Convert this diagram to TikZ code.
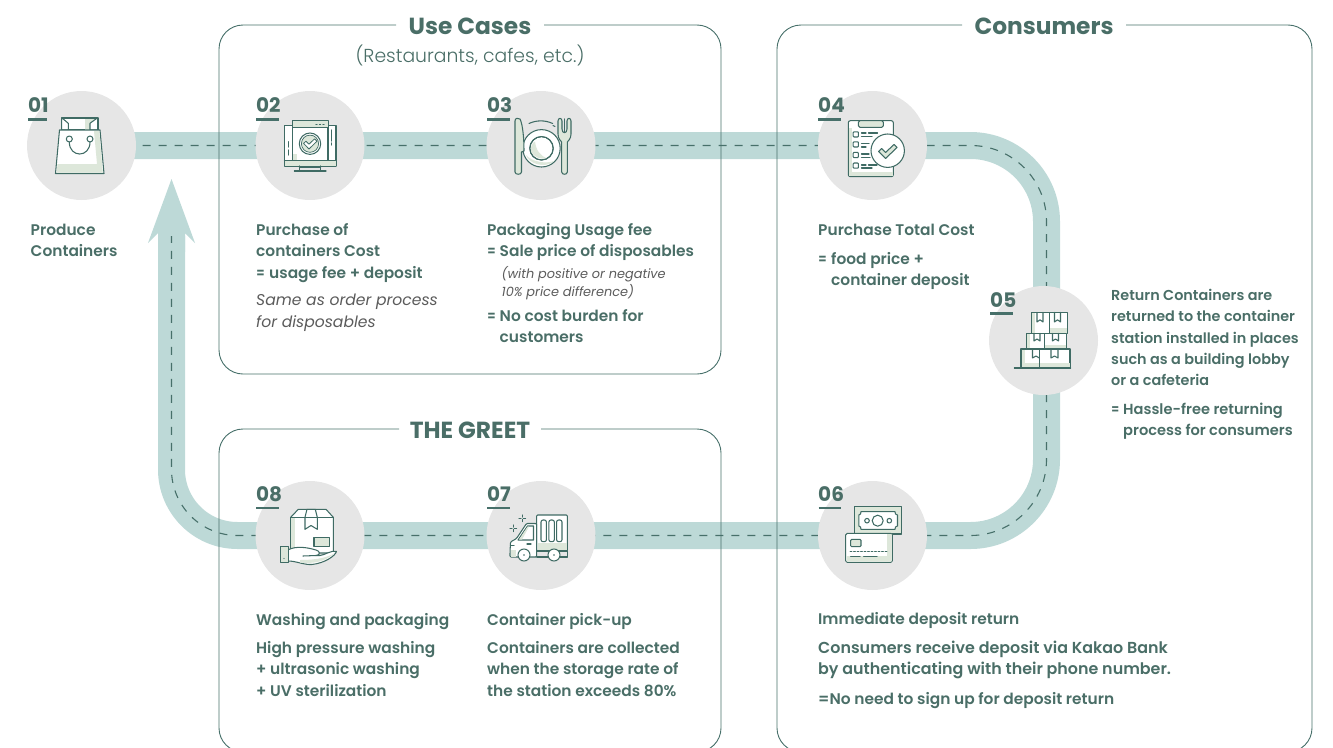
\documentclass[tikz,border=0pt]{standalone}
\usepackage{fontspec}
\setmainfont{Poppins Medium}[BoldFont=Poppins SemiBold,ItalicFont=Poppins Italic]
\newfontfamily\numfont{Poppins Bold}
\newfontfamily\subfont{Poppins Light}
\definecolor{ink}{HTML}{47706A}
\definecolor{icn}{HTML}{3F6B64}
\definecolor{txt}{HTML}{4A6E67}
\definecolor{roadc}{HTML}{BDD9D7}
\definecolor{disc}{HTML}{E6E6E6}
\definecolor{shade}{HTML}{DDE7DA}
\definecolor{note}{HTML}{5B5B5B}
\newcommand{\fl}{\rule{0pt}{14pt}}
\newcommand{\ind}[1]{\hspace*{#1pt}}
\newcommand{\eqs}[1]{\makebox[#1pt][l]{\scalebox{0.78}[1]{=}}}
\tikzset{
  x=1pt,y=-1pt,
  frame/.style={draw=ink,line width=0.9pt,rounded corners=24pt},
  road/.style={draw=roadc,line width=27pt,line join=round},
  lane/.style={draw=ink,line width=1.1pt,dash pattern=on 8pt off 8pt,dash phase=3pt},
  stepdisc/.style={circle,fill=disc,minimum size=109pt,inner sep=0pt},
  title/.style={font=\fontsize{23.3}{26}\numfont,text=txt,inner sep=0pt},
  body/.style={anchor=north west,yshift=-0.3pt,inner sep=0pt,align=left,text=txt,font=\fontsize{15.4}{21.3}\selectfont\bfseries},
  nb/.style={anchor=base west,inner sep=0pt,text=txt,font=\fontsize{20}{22}\numfont},
  nbline/.style={draw=ink,line width=2.4pt},
  ic/.style={draw=icn,line width=1.05pt,line join=round,line cap=round},
  icw/.style={ic,fill=white},
  icl/.style={ic,fill=shade},
  sh/.style={fill=shade},
}
\begin{document}
\begin{tikzpicture}
\useasboundingbox (0,0) rectangle (1333,747);
\clip (0,0) rectangle (1333,747);
% named positions
\coordinate (p1) at (81.5,145.5);
\coordinate (p2) at (310,145.5);
\coordinate (p3) at (541,145.5);
\coordinate (p4) at (872.5,145.5);
\coordinate (p5) at (1043.5,340.5);
\coordinate (p6) at (872.5,535.5);
\coordinate (p7) at (541,535.5);
\coordinate (p8) at (310,535.5);
\coordinate (tr) at (1046.5,145.5);
\coordinate (br) at (1046.5,535.5);
\coordinate (bl) at (171.5,535.5);
\coordinate (shaft) at (171.5,236);
\coordinate (tip) at (171.5,179);
% road
\draw[road] (p1) [rounded corners=76pt] -- (tr) -- (br) [rounded corners=66pt] -- (bl) -- (shaft);
\fill[roadc] (tip) -- (195,243) -- (185,233) -- (185,252) -- (158,252) -- (158,233) -- (148,243) -- cycle;
\draw[lane] (p1) [rounded corners=76pt] -- (tr) -- (br) [rounded corners=66pt] -- (bl) -- (shaft);
% frames
\draw[frame] (544,25) -- (721,25) -- (721,374) -- (219,374) -- (219,25) -- (396,25);
\draw[frame] (1126,25) -- (1312,25) -- (1312,752) -- (777,752) -- (777,25) -- (962,25);
\draw[frame] (541,429) -- (721,429) -- (721,752) -- (219,752) -- (219,429) -- (399,429);
\node[title] (tUse) at (470,26) {Use Cases};
\node[inner sep=0pt,text=txt,font=\fontsize{18.8}{22}\subfont] (tSub) at (470,55) {(Restaurants, cafes, etc.)};
\node[title] (tCons) at (1044,26) {Consumers};
\node[title] (tGreet) at (470,430) {THE GREET};
% discs
\node[stepdisc] (c1) at (p1) {};
\node[stepdisc] (c2) at (p2) {};
\node[stepdisc] (c3) at (p3) {};
\node[stepdisc] (c4) at (p4) {};
\node[stepdisc] (c5) at (p5) {};
\node[stepdisc] (c6) at (p6) {};
\node[stepdisc] (c7) at (p7) {};
\node[stepdisc] (c8) at (p8) {};
% numbers
\node[nb] (n1) at (28,112) {01}; \draw[nbline] (28,119.5) -- (46.5,119.5);
\node[nb] (n2) at (256,112) {02}; \draw[nbline] (256,119.5) -- (279,119.5);
\node[nb] (n3) at (487,112) {03}; \draw[nbline] (487,119.5) -- (510,119.5);
\node[nb] (n4) at (818,112) {04}; \draw[nbline] (818,119.5) -- (841,119.5);
\node[nb] (n5) at (990,307) {05}; \draw[nbline] (990,313.5) -- (1012.5,313.5);
\node[nb] (n6) at (818,501) {06}; \draw[nbline] (818.5,508) -- (841,508);
\node[nb] (n7) at (487,501) {07}; \draw[nbline] (487,508) -- (510,508);
\node[nb] (n8) at (256,501) {08}; \draw[nbline] (256,508) -- (279,508);
% texts
\node[body] (t1) at (30.5,221) {\fl Produce\\Containers};
\node[body] (t2) at (256,221) {\fl Purchase of\\containers Cost\\\eqs{13}usage fee + deposit};
\node[body,text=note,font=\fontsize{15.6}{21.8}\itshape] (t2b) at (256,291) {\fl Same as order process\\for disposables};
\node[body] (t3) at (487,221) {\fl Packaging Usage fee\\\eqs{12.5}Sale price of disposables};
\node[body,text=note,font=\fontsize{12.9}{18}\itshape] (t3b) at (501.5,264) {\fl (with positive or negative\\10\% price difference)};
\node[body] (t3c) at (487,307) {\fl \eqs{12.5}No cost burden for\\\ind{12.5}customers};
\node[body] (t4) at (818,221) {\fl Purchase Total Cost};
\node[body] (t4b) at (818,250) {\fl \eqs{13}food price +\\\ind{13}container deposit};
\node[body,font=\fontsize{14.4}{21.3}\selectfont\bfseries] (t5) at (1111,286) {\fl Return Containers are\\returned to the container\\station installed in places\\such as a building lobby\\or a cafeteria};
\node[body,font=\fontsize{14.6}{21.3}\selectfont\bfseries] (t5b) at (1111,400) {\fl \eqs{12}Hassle-free returning\\\ind{12}process for consumers};
\node[body] (t6) at (818,610) {\fl Immediate deposit return};
\node[body,font=\fontsize{15.9}{21.3}\selectfont\bfseries] (t6b) at (818,639) {\fl Consumers receive deposit via Kakao Bank\\by authenticating with their phone number.};
\node[body] (t6c) at (818,690) {\fl =No need to sign up for deposit return};
\node[body] (t7) at (487,611) {\fl Container pick-up};
\node[body] (t7b) at (487,639) {\fl Containers are collected\\when the storage rate of\\the station exceeds 80\%};
\node[body] (t8) at (256,611) {\fl Washing and packaging};
\node[body] (t8b) at (256,639) {\fl High pressure washing\\+ ultrasonic washing\\+ UV sterilization};
% icon 01 bag
\path[icw] (62,118) rectangle (98,130);
\fill[sh] (85,119) rectangle (97,129.5);
\path[icw] (61.7,117.7) -- (68.3,123.3) -- (68.3,130) -- (61.7,130) -- cycle;
\path[icw] (97.7,117.7) -- (90,123.3) -- (90,130) -- (97.7,130) -- cycle;
\path[icw] (59.5,130) -- (55.5,173.5) -- (104,173.5) -- (100,130) -- cycle;
\fill[sh] (57.5,164) -- (56.8,172.5) -- (102.8,172.5) -- (99.2,131) -- (94,131) -- (97,164) -- cycle;
\draw[ic] (69.3,142) .. controls (69.3,158) and (90,158) .. (90,142);
\draw[icw] (69.3,139) circle (3); \draw[icw] (90,139) circle (3);
% icon 02 monitor
\path[icw] (284.3,125.7) rectangle (336,166);
\fill[sh] (285,161) rectangle (335.5,165.5);
\draw[ic] (284.3,160.7) -- (336,160.7);
\draw[ic] (288.3,141.7) -- (288.3,147) (288.3,150) -- (288.3,155);
\draw[ic] (331.7,130) -- (331.7,141) (331.7,143) -- (331.7,145);
\draw[ic] (299.3,166) -- (299.3,171) (320.7,166) -- (320.7,171) (294.3,171) -- (326,171);
\draw[ic] (299.3,167) -- (320.7,167);
\path[icw] (292.7,120.7) rectangle (328,160.7);
\fill[sh] (293.2,121.2) rectangle (327.5,127.5);
\fill[sh] (293.2,154) rectangle (297,160);
\draw[ic] (292.7,127.7) -- (328,127.7);
\draw[ic,dash pattern=on 1pt off 2.5pt] (316,124.2) -- (325,124.2);
\draw[ic] (310,143.7) circle (10.7);
\draw[ic,line width=0.7pt,fill=shade] (310,143.7) circle (8.6);
\draw[ic,line width=0.8pt,fill=white] (303.6,143.4) -- (306,141.2) -- (309,144.2) -- (314.6,138.8) -- (317,141.2) -- (309,149) -- cycle;
% icon 03 dish
\draw[ic] (529,123.5) arc[start angle=-115,end angle=-65,radius=28];
\draw[ic] (553,125.5) -- (555,126.5);
\draw[icw] (541.5,148.3) circle (18.7);
\fill[sh] (526,155) .. controls (529,164) and (545,169) .. (554,161) .. controls (546,164) and (532,162) .. (526,155) -- cycle;
\draw[icw] (541.5,148.3) circle (11.7);
\fill[sh] (531,151) .. controls (534,158) and (541,159.3) .. (547,158.5) .. controls (541,156) and (536,151) .. (535,141.5) .. controls (532,143) and (530.5,147) .. (531,151) -- cycle;
\draw[ic] (541.5,148.3) circle (11.7);
\path[icl] (515,121) .. controls (515,118) and (518,117.5) .. (520,119) .. controls (523,125) and (524,140) .. (524,151) -- (521.5,152) -- (521.5,172) .. controls (521.5,175) and (515,175) .. (515,172) -- cycle;
\path[icl] (558,121) .. controls (558,117.5) and (562,117.5) .. (562,121) -- (562,129) .. controls (562,134) and (567,134) .. (567,129) -- (567,121) .. controls (567,117.5) and (571,117.5) .. (571,121) -- (571,134) .. controls (571,139) and (568,141) .. (567.3,142) -- (567.3,172) .. controls (567.3,175) and (561.7,175) .. (561.7,172) -- (561.7,142) .. controls (561,141) and (558,139) .. (558,134) -- cycle;
\draw[ic] (564.5,119) -- (564.5,132);
% icon 04 clipboard
\draw[icw,rounded corners=2pt] (848.3,120.7) rectangle (893.3,176.7);
\fill[sh] (849,171.5) rectangle (892.8,176.2);
\fill[sh] (849,128) rectangle (851.5,172);
\draw[icl,rounded corners=1.5pt] (858.3,120.7) rectangle (883.3,127.3);
\draw[icw,rounded corners=0.8pt] (853.2,131.8) rectangle (858.4,137);
\draw[icw,rounded corners=0.8pt] (853.2,141.8) rectangle (858.4,147);
\draw[icw,rounded corners=0.8pt] (853.2,152.4) rectangle (858.4,157.6);
\draw[icw,rounded corners=0.8pt] (853.2,163) rectangle (858.4,168.2);
\draw[ic] (861.5,133) -- (866,133) (868.5,133) -- (877.5,133) (861.5,136.5) -- (872,136.5);
\draw[ic] (861.5,143.5) -- (869,143.5) (861.5,147) -- (866,147);
\draw[ic] (861.5,154) -- (869,154) (861.5,157.5) -- (870,157.5);
\draw[ic] (861.5,165) -- (866,165) (868.5,165) -- (877,165) (861.5,168) -- (872,168);
\draw[icw] (887.7,150.7) circle (16.7);
\draw[icl] (878.5,151.5) -- (881.5,148.5) -- (885.5,152.5) -- (894,144.5) -- (897,147.5) -- (885.5,158.5) -- cycle;
% icon 05 boxes
\path[icw] (1031.3,312.3) rectangle (1049.3,333.3);
\path[icw] (1049.3,312.3) rectangle (1067.3,333.3);
\fill[sh] (1032,313) rectangle (1035,332.8);
\fill[sh] (1050,328) rectangle (1066.5,332.8);
\path[icw] (1026.3,333.3) rectangle (1044.7,349);
\path[icw] (1044.7,333.3) rectangle (1066.7,349);
\fill[sh] (1027,334) rectangle (1030,348.5);
\fill[sh] (1045.3,345) rectangle (1066.2,348.5);
\path[icw] (1021,349) rectangle (1039.3,368);
\path[icw] (1039.3,349) rectangle (1070,368);
\fill[sh] (1021.6,349.5) rectangle (1025,367.5);
\fill[sh] (1025,363) rectangle (1038.8,367.5);
\fill[sh] (1040,363) rectangle (1069.5,367.5);
\draw[ic] (1037,312.3) -- (1037,322) -- (1040,319.8) -- (1043,322) -- (1043,312.3);
\draw[ic] (1054.5,312.3) -- (1054.5,322) -- (1057.5,319.8) -- (1060.5,322) -- (1060.5,312.3);
\draw[ic] (1034,333.3) -- (1034,341) -- (1037,339) -- (1040,341) -- (1040,333.3);
\draw[ic] (1052.5,333.3) -- (1052.5,341) -- (1055.5,339) -- (1058.5,341) -- (1058.5,333.3);
\draw[ic] (1032.5,349) -- (1032.5,358) -- (1036,356) -- (1039.3,358);
\draw[ic] (1051,349) -- (1051,358) -- (1054.5,356) -- (1058,358) -- (1058,349);
\draw[ic] (1014.3,368) -- (1070.7,368);
% icon 06 money
\path[icl] (854.3,506.7) rectangle (901.3,534);
\path[icw] (861,511.7) -- (895,511.7) -- (895.5,514) -- (897.5,515) -- (897.5,526) -- (895.5,527) -- (895,529.3) -- (861,529.3) -- (860.5,527) -- (858.8,526) -- (858.8,515) -- (860.5,514) -- cycle;
\draw[ic] (877.7,520.7) circle (5.5);
\draw[ic] (867,520.7) circle (2.3);
\draw[ic] (889.3,520.7) circle (2.3);
\draw[icw,rounded corners=1.5pt] (845.7,533.3) rectangle (892.3,562.3);
\fill[sh] (846.5,556) -- (887,556) -- (887,534.2) -- (891.6,534.2) -- (891.6,561.6) -- (846.5,561.6) -- cycle;
\draw[icl,rounded corners=1pt] (850.7,539.3) rectangle (861,546.7);
\draw[ic,line width=0.9pt,dash pattern=on 2pt off 1.5pt] (850,551.3) -- (888,551.3);
\draw[ic] (850.7,556.7) -- (860,556.7) (863.7,556.7) -- (877,556.7);
% icon 07 truck
\path[icw,rounded corners=1pt] (536.7,515) rectangle (567.3,551);
\fill[sh] (537.5,542.5) rectangle (566.8,550.5);
\foreach \bx in {541,548.9,556.6}{\draw[icw,rounded corners=2pt] (\bx,520) rectangle (\bx+5.4,541.7);}
\path[icw,rounded corners=1pt] (536.7,523.5) -- (526.5,523.5) -- (516.5,538.5) -- (510.5,542) -- (510,553) -- (510,557) -- (536.7,557) -- cycle;
\path[icw] (533.5,526) -- (527.5,526) -- (518,540) -- (533.5,540) -- cycle;
\fill[sh] (527.5,526.7) -- (529,526.7) -- (522,539.5) -- (519,539.5) -- cycle;
\draw[ic] (536.7,551) -- (567.3,551) -- (567.3,557) -- (536.7,557);
\fill[sh] (511,550) rectangle (516,556.5);
\draw[ic] (510.5,545.5) -- (514,545.5);
\draw[ic] (527,544) -- (531,544);
\draw[icw] (524,555) circle (6); \fill[icn] (524,555) circle (0.9);
\draw[icw] (554,555) circle (6); \fill[icn] (554,555) circle (0.9);
\draw[ic] (522.3,515) -- (522.3,517.2) (522.3,519.4) -- (522.3,521.6) (519,518.3) -- (521.2,518.3) (523.4,518.3) -- (525.6,518.3);
\draw[ic] (513.3,525) -- (513.3,527.2) (513.3,529.4) -- (513.3,531.6) (510,528.3) -- (512.2,528.3) (514.4,528.3) -- (516.6,528.3);
% icon 08 box and hand
\path[icw] (298.3,509.3) -- (326,509.3) -- (333.3,517.3) -- (333.3,553) -- (290.7,553) -- (290.7,517.3) -- cycle;
\fill[sh] (291.3,518) rectangle (294.5,552);
\draw[ic] (290.7,517.3) -- (333.3,517.3);
\draw[icw] (307,509.3) -- (305,517.3) -- (305,529.3) -- (311,525.5) -- (317.3,529.3) -- (317.3,517.3) -- (315.3,509.3) -- cycle;
\draw[ic] (305,517.3) -- (317.3,517.3);
\draw[icl] (314,537.7) rectangle (329.3,546.7);
\path[icw] (288.3,549.7) .. controls (296,546) and (306,547) .. (316,550) .. controls (320,551) and (321,555) .. (316,555.5) -- (320,555.5) .. controls (325,555) and (331,550) .. (336.5,551.5) .. controls (335,556) and (325,563) .. (312,564.5) .. controls (304,565) and (296,561) .. (288.3,561) -- cycle;
\fill[sh] (300,562.5) .. controls (312,564) and (325,562) .. (334,553.5) .. controls (328,557) and (318,560) .. (300,560) -- cycle;
\draw[ic] (303,556) -- (316,555.5);
\draw[icl] (280.7,546.7) rectangle (288.3,562.7);
\fill[icn] (284,558.5) circle (0.6);
\end{tikzpicture}
\end{document}
